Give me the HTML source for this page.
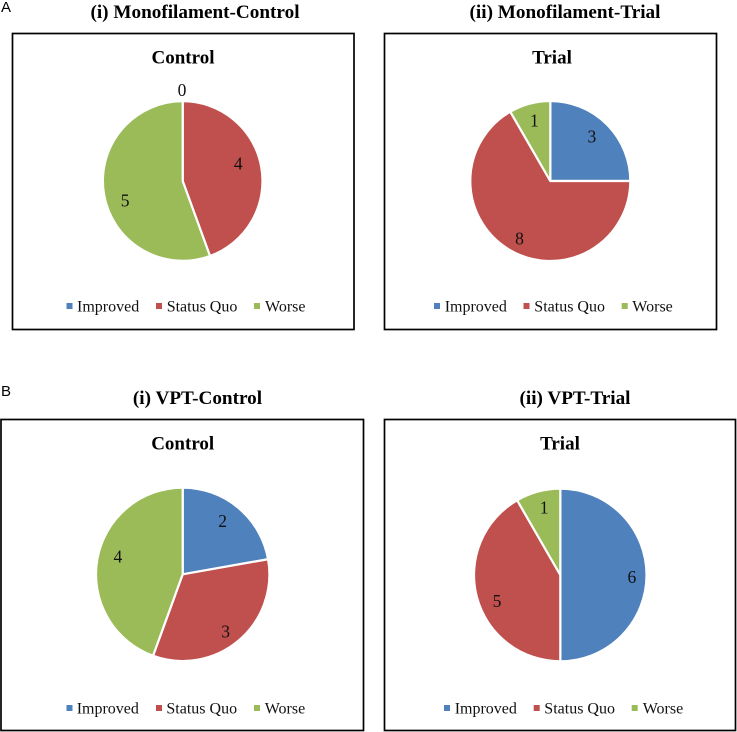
<!DOCTYPE html>
<html lang="en">
<head>
<meta charset="utf-8">
<title>Monofilament and VPT pie charts</title>
<style>
html,body{margin:0;padding:0;background:#fff;}
svg{display:block;}
text{font-family:"Liberation Serif",serif;fill:#000;}
.panel-title{font-size:19.2px;font-weight:bold;text-anchor:middle;}
.chart-title{font-size:19px;font-weight:bold;text-anchor:middle;}
.legend-text{font-size:16px;fill:#111;}
.value{font-size:17.5px;text-anchor:middle;fill:#111;}
.letter{font-family:"Liberation Sans",sans-serif;font-size:15px;}
</style>
</head>
<body>
<svg id="figure" xmlns="http://www.w3.org/2000/svg" width="737" height="732" viewBox="0 0 737 732">
  <rect width="737" height="732" fill="#ffffff"/>
  <text class="letter" x="1" y="12">A</text>
  <text class="letter" x="1" y="396">B</text>
  <text class="panel-title" x="195" y="18">(i) Monofilament-Control</text>
  <text class="panel-title" x="565" y="18">(ii) Monofilament-Trial</text>
  <text class="panel-title" x="197.5" y="404">(i) VPT-Control</text>
  <text class="panel-title" x="575" y="404">(ii) VPT-Trial</text>

  <rect x="12.5" y="33.5" width="341.5" height="296" fill="#fff" stroke="#000" stroke-width="1.7"/>
  <rect x="384.5" y="33.5" width="332" height="296" fill="#fff" stroke="#000" stroke-width="1.7"/>
  <rect x="1" y="419.5" width="362.5" height="311" fill="#fff" stroke="#000" stroke-width="1.7"/>
  <rect x="384.5" y="419.5" width="351" height="311" fill="#fff" stroke="#000" stroke-width="1.7"/>

  <text class="chart-title" x="183" y="63.5">Control</text>
  <text class="chart-title" x="552" y="63.5">Trial</text>
  <text class="chart-title" x="182.7" y="449.5">Control</text>
  <text class="chart-title" x="560" y="449.5">Trial</text>

  <g>
    <rect x="66.5" y="303" width="6" height="6" fill="#4F81BD"/>
    <text class="legend-text" x="77" y="311.5">Improved</text>
    <rect x="156" y="303" width="6" height="6" fill="#C0504D"/>
    <text class="legend-text" x="166.7" y="311.5">Status Quo</text>
    <rect x="254" y="303" width="6" height="6" fill="#9BBB59"/>
    <text class="legend-text" x="265" y="311.5">Worse</text>
  </g>
  <g>
    <rect x="434" y="303" width="6" height="6" fill="#4F81BD"/>
    <text class="legend-text" x="444.7" y="311.5">Improved</text>
    <rect x="523.5" y="303" width="6" height="6" fill="#C0504D"/>
    <text class="legend-text" x="534.3" y="311.5">Status Quo</text>
    <rect x="621.7" y="303" width="6" height="6" fill="#9BBB59"/>
    <text class="legend-text" x="632.3" y="311.5">Worse</text>
  </g>
  <g>
    <rect x="66.5" y="705" width="6" height="6" fill="#4F81BD"/>
    <text class="legend-text" x="76.7" y="713.5">Improved</text>
    <rect x="156" y="705" width="6" height="6" fill="#C0504D"/>
    <text class="legend-text" x="166.4" y="713.5">Status Quo</text>
    <rect x="254" y="705" width="6" height="6" fill="#9BBB59"/>
    <text class="legend-text" x="264.7" y="713.5">Worse</text>
  </g>
  <g>
    <rect x="444" y="705" width="6" height="6" fill="#4F81BD"/>
    <text class="legend-text" x="454.7" y="713.5">Improved</text>
    <rect x="533.7" y="705" width="6" height="6" fill="#C0504D"/>
    <text class="legend-text" x="544.3" y="713.5">Status Quo</text>
    <rect x="631.7" y="705" width="6" height="6" fill="#9BBB59"/>
    <text class="legend-text" x="642.7" y="713.5">Worse</text>
  </g>
</svg>
<script>
// Chart data: Improved, Status Quo, Worse
const categories = ["Improved", "Status Quo", "Worse"];
const monofilamentControl = [0, 4, 5];
const monofilamentTrial = [3, 8, 1];
const vptControl = [2, 3, 4];
const vptTrial = [6, 5, 1];

const sliceColors = ["#4F81BD", "#C0504D", "#9BBB59"];
const svgNS = "http://www.w3.org/2000/svg";
const figure = document.getElementById("figure");

function angleScale(value, total) {
  return value / total * Math.PI * 2;
}

function pointAt(cx, cy, radius, angle) {
  return [cx + radius * Math.sin(angle), cy - radius * Math.cos(angle)];
}

function drawPie(values, layout) {
  const total = values.reduce((a, b) => a + b, 0);
  const group = document.createElementNS(svgNS, "g");
  
  
  figure.appendChild(group);
  const drawnRadius = layout.r + 1;
  let start = 0;
  const labels = [];
  values.forEach((value, i) => {
    const sweep = angleScale(value, total);
    const end = start + sweep;
    if (value > 0) {
      const p0 = pointAt(layout.cx, layout.cy, drawnRadius, start);
      const p1 = pointAt(layout.cx, layout.cy, drawnRadius, end);
      const large = sweep > Math.PI ? 1 : 0;
      const slice = document.createElementNS(svgNS, "path");
      slice.setAttribute("d", "M" + layout.cx + " " + layout.cy + "L" + p0[0] + " " + p0[1] + "A" + drawnRadius + " " + drawnRadius + " 0 " + large + " 1 " + p1[0] + " " + p1[1] + "Z");
      slice.setAttribute("fill", sliceColors[i]);
      slice.setAttribute("stroke", "#ffffff");
      slice.setAttribute("stroke-width", "2.2");
      slice.setAttribute("stroke-linejoin", "round");
      
      
      group.appendChild(slice);
    }
    const mid = start + sweep / 2;
    const p = pointAt(layout.cx, layout.cy, layout.r * 0.78, mid);
    const nudge = layout.nudges[i];
    const label = document.createElementNS(svgNS, "text");
    label.setAttribute("class", "value");
    label.setAttribute("x", p[0] + nudge[0]);
    label.setAttribute("y", p[1] + nudge[1] + 6);
    
    
    label.textContent = value;
    labels.push(label);
    start = end;
  });
  labels.forEach(l => group.appendChild(l));
}

drawPie(monofilamentControl, {name: "pie-monofilament-control", cx: 182.7, cy: 181, r: 78.8, nudges: [[-0.7, -29.4], [-5, -7], [3, 9]]});
drawPie(monofilamentTrial, {name: "pie-monofilament-trial", cx: 550.3, cy: 181, r: 79, nudges: [[-2, -1], [0, 4], [0, -1]]});
drawPie(vptControl, {name: "pie-vpt-control", cx: 182.7, cy: 574.3, r: 85.7, nudges: [[-3, -2], [0, 6], [1, -6]]});
drawPie(vptTrial, {name: "pie-vpt-trial", cx: 560.3, cy: 575, r: 85.3, nudges: [[5, 2], [1, 9], [1, -3]]});
</script>
</body>
</html>
